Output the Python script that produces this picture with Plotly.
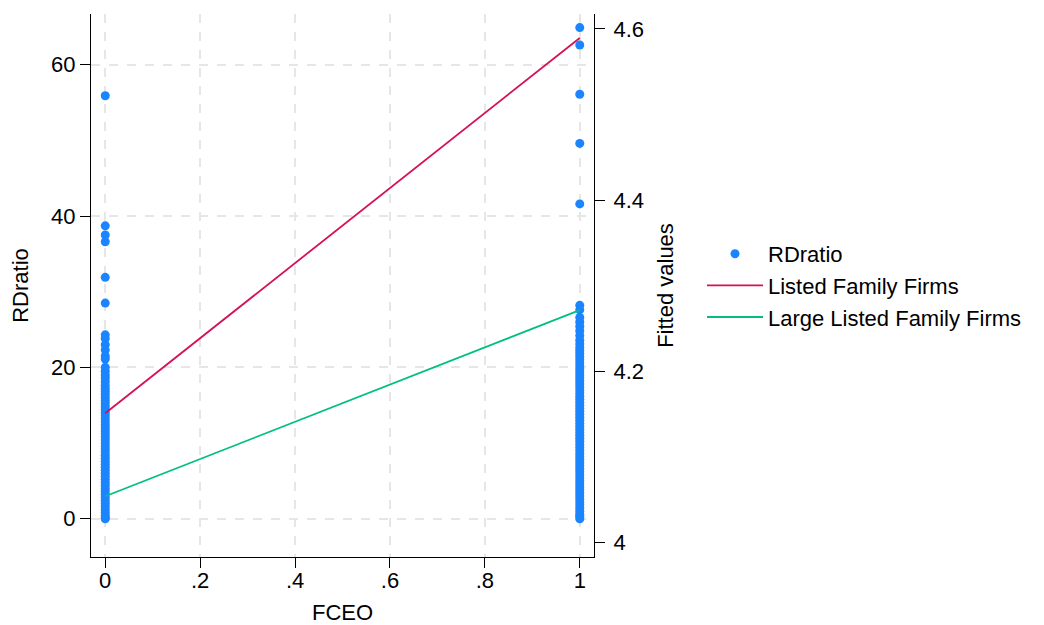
import plotly.graph_objects as go

# Data
rd_fceo0 = [55.9, 38.7, 37.5, 36.6, 31.9, 28.5, 24.3, 23.8, 23.0, 22.3, 21.5, 21.1,
            20.0, 19.5, 19.0, 18.6, 18.1, 17.6, 17.2, 16.8, 16.4, 16.0, 15.6, 15.2,
            14.8, 14.4, 14.0, 13.6, 13.2, 12.8, 12.4, 12.0, 11.6, 11.2, 10.8, 10.4,
            10.0, 9.6, 9.2, 8.8, 8.4, 8.0, 7.6, 7.2, 6.8, 6.4, 6.0, 5.6, 5.2, 4.8,
            4.4, 4.0, 3.6, 3.2, 2.8, 2.4, 2.0, 1.6, 1.2, 0.8, 0.4, 0.1, 0.0]
rd_fceo1 = [64.9, 62.6, 56.1, 49.6, 41.6, 28.2, 27.6, 26.6, 26.0, 25.4, 24.8, 24.2,
            23.6, 23.1, 22.6, 22.2, 21.8, 21.4, 21.0, 20.6, 20.2, 19.8, 19.4, 19.0,
            18.6, 18.2, 17.8, 17.4, 17.0, 16.6, 16.2, 15.8, 15.4, 15.0, 14.6, 14.2,
            13.8, 13.4, 13.0, 12.6, 12.2, 11.8, 11.4, 11.0, 10.6, 10.2, 9.8, 9.4,
            9.0, 8.6, 8.2, 7.8, 7.4, 7.0, 6.6, 6.2, 5.8, 5.4, 5.0, 4.6, 4.2, 3.8,
            3.4, 3.0, 2.6, 2.2, 1.8, 1.4, 1.0, 0.6, 0.3, 0.0]
fceo_x = [0, 1]
fitted_listed = [4.151, 4.5895]
fitted_large = [4.054, 4.2715]

x_tickvals = [0, 0.2, 0.4, 0.6, 0.8, 1]
x_ticktext = ["0", ".2", ".4", ".6", ".8", "1"]
y_tickvals = [0, 20, 40, 60]
y2_tickvals = [4, 4.2, 4.4, 4.6]
y2_ticktext = ["4", "4.2", "4.4", "4.6"]

BLUE = "#1a85ff"
RED = "#d41159"
GREEN = "#00bf7f"
FONT = "Arial, 'Liberation Sans', Helvetica, sans-serif"
FS = 22

sx = [0] * len(rd_fceo0) + [1] * len(rd_fceo1)
sy = rd_fceo0 + rd_fceo1

fig = go.Figure()
fig.add_trace(go.Scatter(x=sx, y=sy, mode="markers", name="RDratio",
                         marker=dict(color=BLUE, size=9, line=dict(width=0)),
                         yaxis="y"))
fig.add_trace(go.Scatter(x=fceo_x, y=fitted_listed, mode="lines",
                         name="Listed Family Firms",
                         line=dict(color=RED, width=1.8), yaxis="y2"))
fig.add_trace(go.Scatter(x=fceo_x, y=fitted_large, mode="lines",
                         name="Large Listed Family Firms",
                         line=dict(color=GREEN, width=1.8), yaxis="y2"))

axis_common = dict(showline=True, linecolor="black", linewidth=1.2, mirror=False,
                   ticks="outside", ticklen=10, tickcolor="black", tickwidth=1.2,
                   zeroline=False, automargin=False,
                   tickfont=dict(size=FS, color="black"))

fig.update_layout(
    width=1036, height=617,
    margin=dict(l=83, r=450, t=6, b=68),
    paper_bgcolor="white", plot_bgcolor="white",
    font=dict(family=FONT, size=FS, color="black"),
    xaxis=dict(range=[-0.03, 1.03], tickvals=x_tickvals, ticktext=x_ticktext,
               showgrid=True, gridcolor="#e6e6e6", griddash="dash", gridwidth=1.5,
               ticklabelstandoff=-7,
               title=dict(text="FCEO", font=dict(size=FS), standoff=21),
               **axis_common),
    yaxis=dict(range=[-5.06, 66.7], tickvals=y_tickvals,
               showgrid=True, gridcolor="#e6e6e6", griddash="dash", gridwidth=1.5,
               title=dict(text="RDratio", font=dict(size=FS), standoff=18),
               **axis_common),
    yaxis2=dict(range=[3.983, 4.6175], tickvals=y2_tickvals, ticktext=y2_ticktext,
                overlaying="y", side="right", showgrid=False,
                ticklabelstandoff=4,
                title=dict(text="Fitted values", font=dict(size=FS), standoff=14),
                **axis_common),
    legend=dict(x=1.2147, xanchor="left", y=0.5, yanchor="middle",
                font=dict(size=22, color="black"), bgcolor="rgba(0,0,0,0)",
                tracegroupgap=0, itemwidth=56),
    showlegend=True,
)

fig.write_html("out.html")
